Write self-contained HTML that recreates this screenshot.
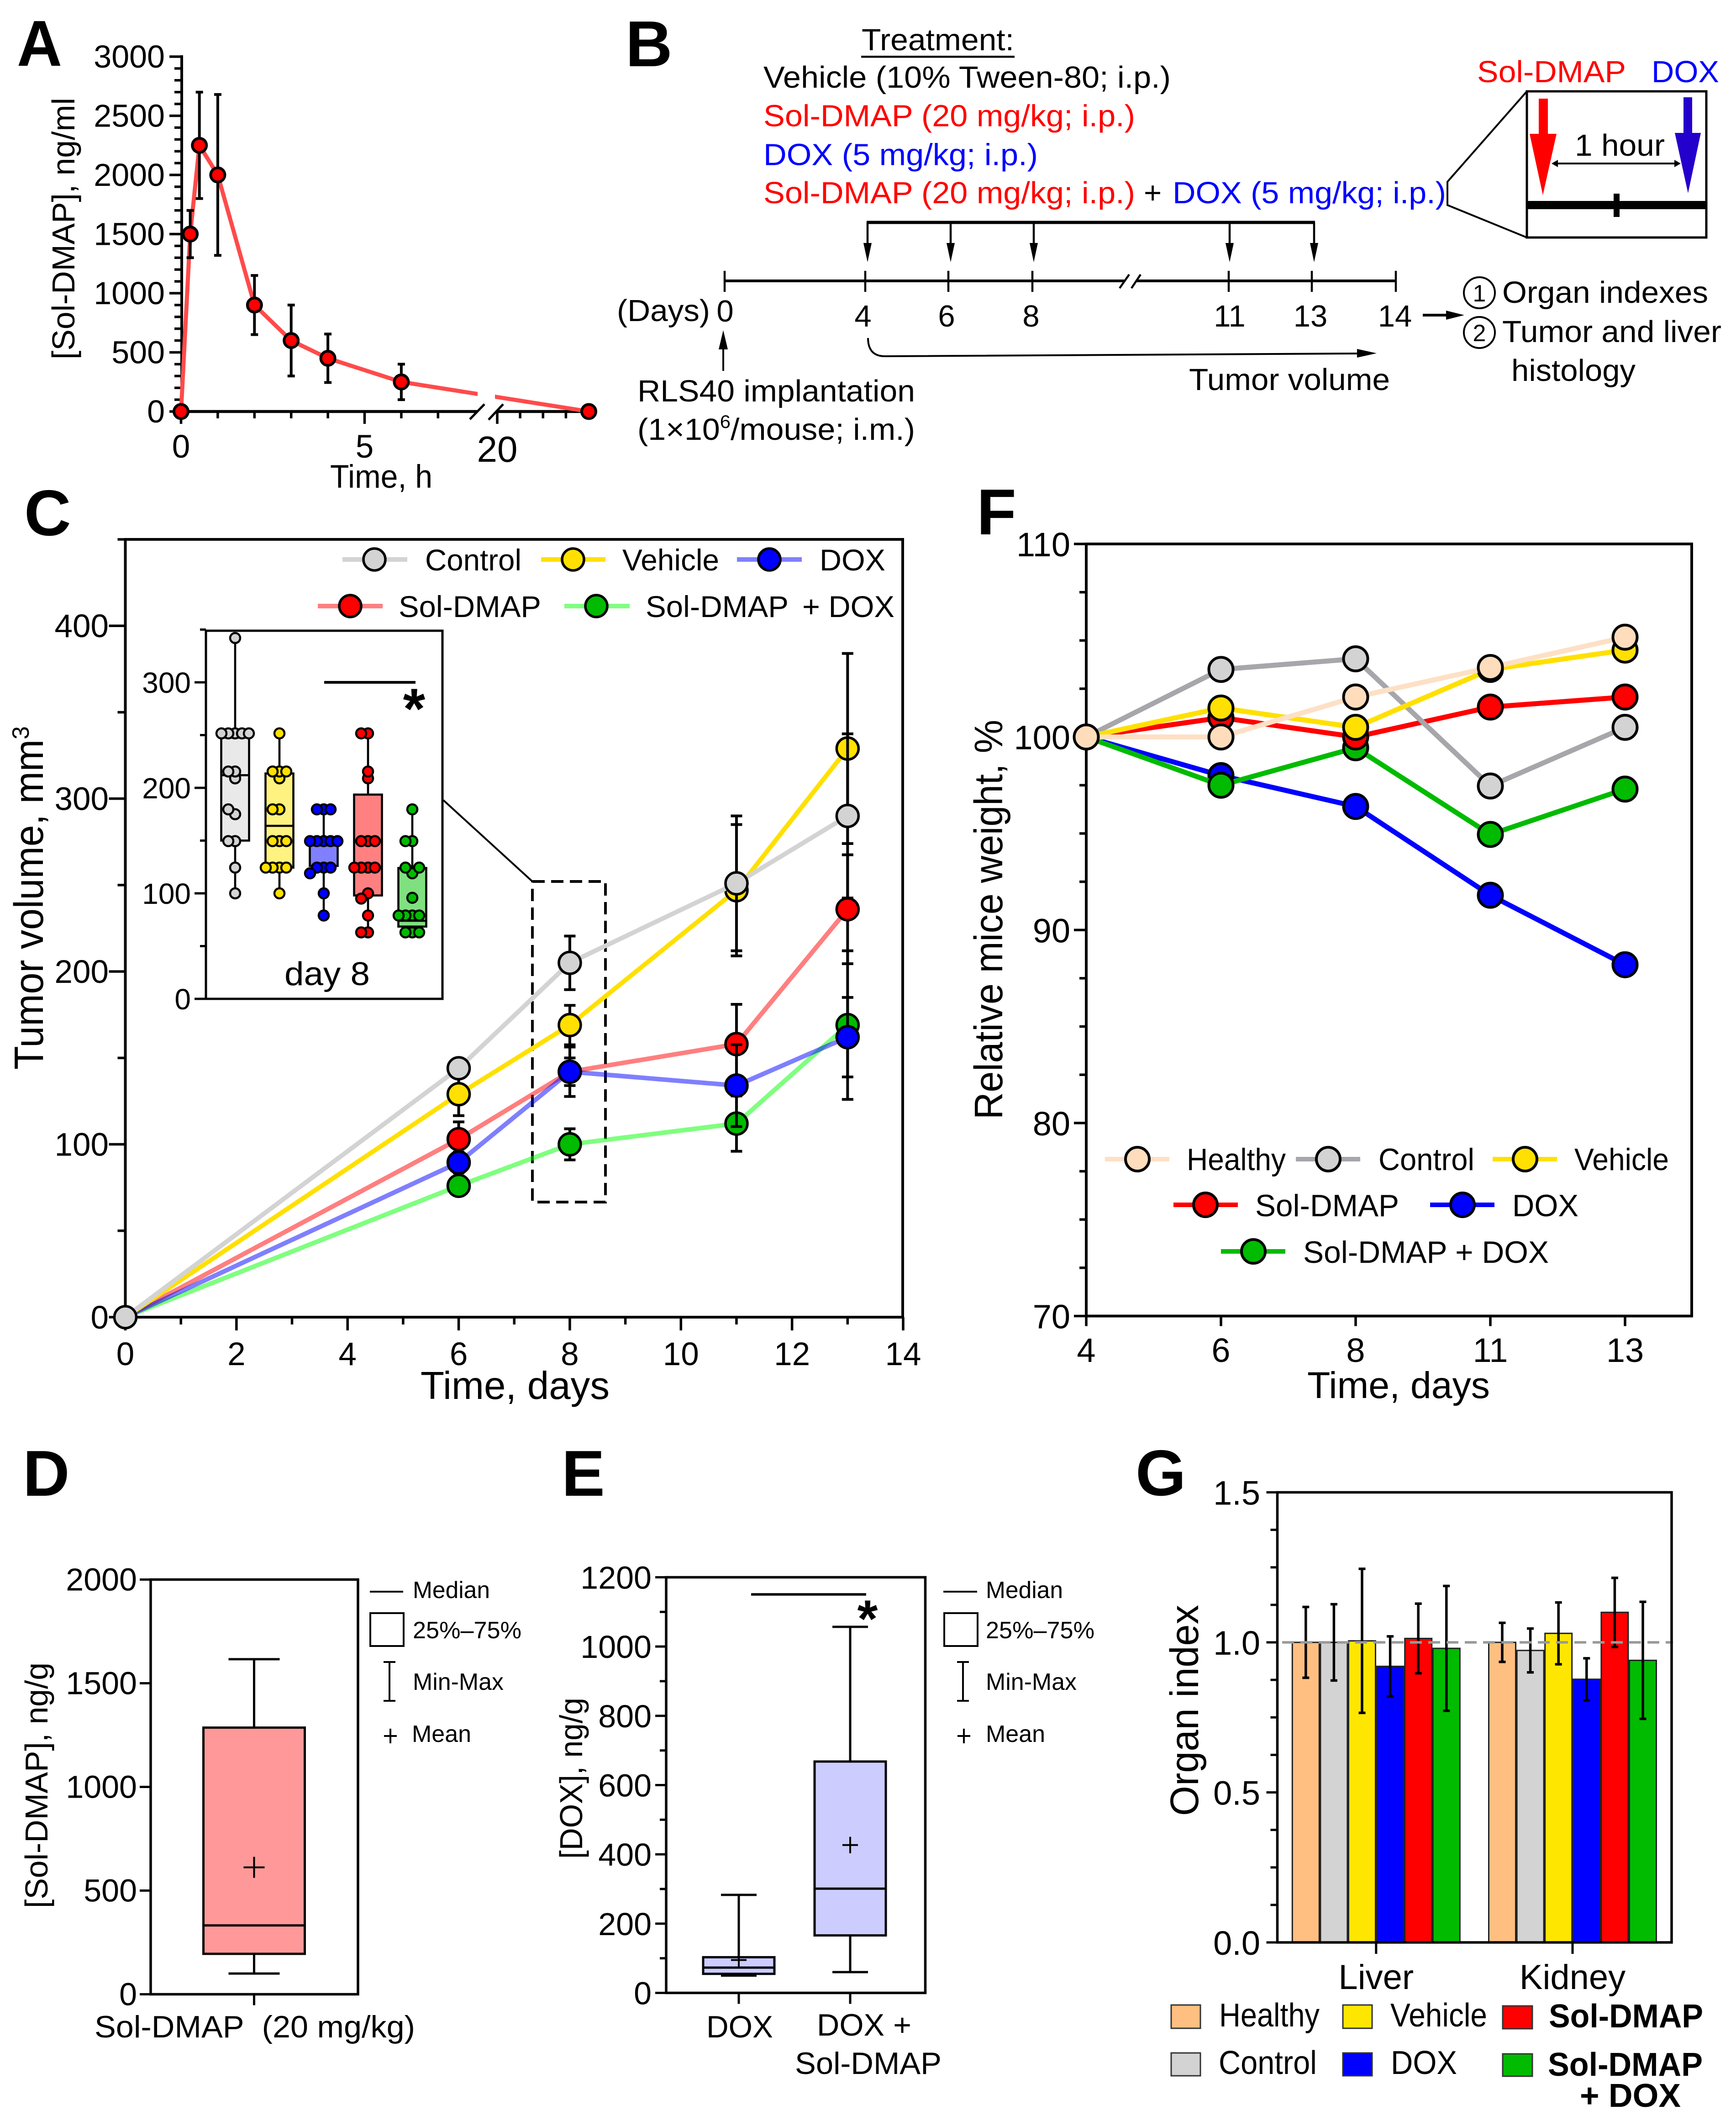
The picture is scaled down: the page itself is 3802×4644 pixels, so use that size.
<!DOCTYPE html>
<html lang="en">
<head>
<meta charset="utf-8">
<title>Sol-DMAP and DOX study figure</title>
<style>
html,body{margin:0;padding:0;background:#fff}
svg{display:block;font-family:"Liberation Sans",Arial,sans-serif}
</style>
</head>
<body>
<svg id="figure" width="3802" height="4644" viewBox="0 0 3802 4644">
<rect x="0" y="0" width="3802" height="4644" fill="#fff"/>

<!-- Panel letters -->
<g font-weight="bold" font-size="142">
<text x="37" y="144" textLength="99" lengthAdjust="spacingAndGlyphs">A</text>
<text x="1370" y="145">B</text>
<text x="53" y="1172">C</text>
<text x="2139" y="1170">F</text>
<text x="50" y="3275">D</text>
<text x="1230" y="3275">E</text>
<text x="2487" y="3274">G</text>
</g>

<!-- Panel A -->
<g id="panelA">
<text x="163" y="787" font-size="70" textLength="573" lengthAdjust="spacingAndGlyphs" transform="rotate(-90 163 787)">[Sol-DMAP], ng/ml</text>
<text x="723" y="1068" font-size="71" textLength="224" lengthAdjust="spacingAndGlyphs">Time, h</text>
</g>

<!-- Panel B -->
<g id="panelB" font-size="67">
<text x="1887" y="110" textLength="334" lengthAdjust="spacingAndGlyphs">Treatment:</text>
<rect x="1886" y="122" width="336" height="4.5" fill="#000"/>
<text x="1672" y="192" textLength="892" lengthAdjust="spacingAndGlyphs">Vehicle (10% Tween-80; i.p.)</text>
<text x="1672" y="276.5" fill="#f00" textLength="814" lengthAdjust="spacingAndGlyphs">Sol-DMAP (20 mg/kg; i.p.)</text>
<text x="1672" y="361.5" fill="#00f" textLength="601" lengthAdjust="spacingAndGlyphs">DOX (5 mg/kg; i.p.)</text>
<text x="1672" y="445" fill="#f00" textLength="814" lengthAdjust="spacingAndGlyphs">Sol-DMAP (20 mg/kg; i.p.)</text>
<text x="2505" y="445">+</text>
<text x="2568" y="445" fill="#00f" textLength="599" lengthAdjust="spacingAndGlyphs">DOX (5 mg/kg; i.p.)</text>

<text x="3235" y="180" fill="#f00" textLength="326" lengthAdjust="spacingAndGlyphs">Sol-DMAP</text>
<text x="3617" y="180" fill="#00f" textLength="148" lengthAdjust="spacingAndGlyphs">DOX</text>
<rect x="3344" y="200" width="393" height="320" fill="none" stroke="#000" stroke-width="5"/>
<polyline points="3344,200 3170,398 3170,449 3344,520" fill="none" stroke="#000" stroke-width="4"/>
<polygon points="3370,216 3390,216 3390,293 3409,293 3379,427 3350,293 3370,293" fill="#f00"/>
<polygon points="3687,213 3706,213 3706,291 3725,291 3697,423 3668,291 3687,291" fill="#2400cc"/>
<text x="3449" y="341" textLength="197" lengthAdjust="spacingAndGlyphs">1 hour</text>
<g>
<line x1="3405" y1="358" x2="3674" y2="358" stroke="#000" stroke-width="4"/>
<polygon points="3398,358 3412,350 3412,366" fill="#000"/>
<polygon points="3681,358 3667,350 3667,366" fill="#000"/>
</g>
<rect x="3344" y="440" width="393" height="18" fill="#000"/>
<rect x="3534" y="424" width="13" height="51" fill="#000"/>

<line x1="1898" y1="487" x2="2880" y2="487" stroke="#000" stroke-width="7"/>
<g>
<path d="M1900 487V535" stroke="#000" stroke-width="4.5"/><polygon points="1891,532 1909,532 1900,574" fill="#000"/>
<path d="M2082 487V535" stroke="#000" stroke-width="4.5"/><polygon points="2073,532 2091,532 2082,574" fill="#000"/>
<path d="M2264 487V535" stroke="#000" stroke-width="4.5"/><polygon points="2255,532 2273,532 2264,574" fill="#000"/>
<path d="M2693 487V535" stroke="#000" stroke-width="4.5"/><polygon points="2684,532 2702,532 2693,574" fill="#000"/>
<path d="M2878 487V535" stroke="#000" stroke-width="4.5"/><polygon points="2869,532 2887,532 2878,574" fill="#000"/>
</g>
<line x1="1587" y1="615" x2="3057" y2="615" stroke="#000" stroke-width="6"/>
<g stroke="#000" stroke-width="4.5">
<line x1="1587" y1="593" x2="1587" y2="639"/><line x1="1895" y1="593" x2="1895" y2="639"/><line x1="2077" y1="593" x2="2077" y2="639"/><line x1="2261" y1="593" x2="2261" y2="639"/><line x1="2691" y1="593" x2="2691" y2="639"/><line x1="2873" y1="593" x2="2873" y2="639"/><line x1="3057" y1="593" x2="3057" y2="639"/>
</g>
<rect x="2462" y="607" width="26" height="16" fill="#fff"/>
<line x1="2452" y1="631" x2="2473" y2="601" stroke="#000" stroke-width="4.5"/>
<line x1="2478" y1="631" x2="2498" y2="601" stroke="#000" stroke-width="4.5"/>
<text x="1351" y="703" textLength="204" lengthAdjust="spacingAndGlyphs">(Days)</text>
<text x="1588" y="704" text-anchor="middle">0</text>
<text x="1890" y="715" text-anchor="middle">4</text>
<text x="2073" y="715" text-anchor="middle">6</text>
<text x="2258" y="715" text-anchor="middle">8</text>
<text x="2693" y="715" text-anchor="middle">11</text>
<text x="2870" y="715" text-anchor="middle">13</text>
<text x="3055" y="715" text-anchor="middle">14</text>
<g>
<line x1="1584" y1="760" x2="1584" y2="812" stroke="#000" stroke-width="4"/>
<polygon points="1584,723 1594,765 1574,765" fill="#000"/>
</g>
<text x="1396" y="879" textLength="608" lengthAdjust="spacingAndGlyphs">RLS40 implantation</text>
<text x="1396" y="963" textLength="608" lengthAdjust="spacingAndGlyphs">(1×10<tspan font-size="40" dy="-26">6</tspan><tspan dy="26">/mouse; i.m.)</tspan></text>
<g>
<path d="M1901 740 C1901 765 1912 780 1938 780 L2975 774" fill="none" stroke="#000" stroke-width="4"/>
<polygon points="3015,773.5 2972,764 2972,783" fill="#000"/>
</g>
<text x="2604" y="854" textLength="440" lengthAdjust="spacingAndGlyphs">Tumor volume</text>
<g>
<line x1="3116" y1="690" x2="3172" y2="690" stroke="#000" stroke-width="6"/>
<polygon points="3207,690 3167,680 3167,700" fill="#000"/>
</g>
<circle cx="3240" cy="641" r="34" fill="none" stroke="#000" stroke-width="4"/>
<text x="3240" y="660" font-size="52" text-anchor="middle">1</text>
<text x="3290" y="663" textLength="451" lengthAdjust="spacingAndGlyphs">Organ indexes</text>
<circle cx="3240" cy="728" r="34" fill="none" stroke="#000" stroke-width="4"/>
<text x="3240" y="747" font-size="52" text-anchor="middle">2</text>
<text x="3290" y="749" textLength="480" lengthAdjust="spacingAndGlyphs">Tumor and liver</text>
<text x="3310" y="834" textLength="272" lengthAdjust="spacingAndGlyphs">histology</text>
</g>

<!-- Panel C -->
<g id="panelC">
<rect x="274.5" y="1181" width="1702.5" height="1703" fill="none" stroke="#000" stroke-width="6"/>
<text x="94" y="2342" font-size="90" textLength="723" lengthAdjust="spacingAndGlyphs" transform="rotate(-90 94 2342)">Tumor volume, mm</text>
<text x="63" y="1619" font-size="52" transform="rotate(-90 63 1619)">3</text>
<text x="921" y="3063" font-size="85" textLength="414" lengthAdjust="spacingAndGlyphs">Time, days</text>
<rect x="1166" y="1930" width="160" height="702" fill="none" stroke="#000" stroke-width="6" stroke-dasharray="27 14"/>
<line x1="971" y1="1752" x2="1166" y2="1930" stroke="#000" stroke-width="4"/>
</g>

<!-- Panel F -->
<g id="panelF">
<rect x="2379" y="1191" width="1326" height="1690.5" fill="none" stroke="#000" stroke-width="6"/>
<text x="2195" y="2451" font-size="87" textLength="875" lengthAdjust="spacingAndGlyphs" transform="rotate(-90 2195 2451)">Relative mice weight, %</text>
<text x="2863" y="3061" font-size="82" textLength="400" lengthAdjust="spacingAndGlyphs">Time, days</text>
</g>

<!-- Panel D -->
<g id="panelD">
<rect x="330" y="3458.5" width="454" height="908" fill="none" stroke="#000" stroke-width="5.5"/>
<text x="104" y="4178" font-size="70" textLength="538" lengthAdjust="spacingAndGlyphs" transform="rotate(-90 104 4178)">[Sol-DMAP], ng/g</text>
<text x="207" y="4461" font-size="68" textLength="702" lengthAdjust="spacingAndGlyphs">Sol-DMAP&#160; (20 mg/kg)</text>
<g font-size="52">
<line x1="810" y1="3485" x2="883" y2="3485" stroke="#000" stroke-width="4"/>
<text x="904" y="3499" textLength="169" lengthAdjust="spacingAndGlyphs">Median</text>
<rect x="811" y="3532" width="73" height="72" fill="#fff" stroke="#000" stroke-width="4"/>
<text x="904" y="3587" textLength="238" lengthAdjust="spacingAndGlyphs">25%–75%</text>
<path d="M853 3639V3724M840 3639H866M840 3724H866" fill="none" stroke="#000" stroke-width="4"/>
<text x="904" y="3700" textLength="199" lengthAdjust="spacingAndGlyphs">Min-Max</text>
<path d="M855 3785V3817M841 3801H869" fill="none" stroke="#000" stroke-width="4"/>
<text x="902" y="3814" textLength="130" lengthAdjust="spacingAndGlyphs">Mean</text>
</g>
</g>

<!-- Panel E -->
<g id="panelE">
<rect x="1459" y="3453.5" width="567.5" height="910" fill="none" stroke="#000" stroke-width="5.5"/>
<text x="1275" y="4070" font-size="70" textLength="353" lengthAdjust="spacingAndGlyphs" transform="rotate(-90 1275 4070)">[DOX], ng/g</text>
<text x="1547" y="4461" font-size="68" textLength="146" lengthAdjust="spacingAndGlyphs">DOX</text>
<text x="1789" y="4457" font-size="68" textLength="207" lengthAdjust="spacingAndGlyphs">DOX +</text>
<text x="1741" y="4541" font-size="68" textLength="321" lengthAdjust="spacingAndGlyphs">Sol-DMAP</text>
<line x1="1645" y1="3491" x2="1897" y2="3491" stroke="#000" stroke-width="5.5"/>
<text x="1900" y="3584" font-size="115" font-weight="bold" text-anchor="middle">*</text>
<g font-size="52">
<line x1="2066" y1="3485" x2="2140" y2="3485" stroke="#000" stroke-width="4"/>
<text x="2159" y="3499" textLength="169" lengthAdjust="spacingAndGlyphs">Median</text>
<rect x="2068" y="3532" width="73" height="72" fill="#fff" stroke="#000" stroke-width="4"/>
<text x="2159" y="3587" textLength="238" lengthAdjust="spacingAndGlyphs">25%–75%</text>
<path d="M2109 3639V3724M2096 3639H2122M2096 3724H2122" fill="none" stroke="#000" stroke-width="4"/>
<text x="2159" y="3700" textLength="199" lengthAdjust="spacingAndGlyphs">Min-Max</text>
<path d="M2111 3785V3817M2097 3801H2125" fill="none" stroke="#000" stroke-width="4"/>
<text x="2159" y="3814" textLength="130" lengthAdjust="spacingAndGlyphs">Mean</text>
</g>
</g>

<!-- Panel G -->
<g id="panelG">
<text x="2624" y="3976" font-size="87" textLength="462" lengthAdjust="spacingAndGlyphs" transform="rotate(-90 2624 3976)">Organ index</text>
<g font-size="72">
<rect x="2565" y="4390" width="64" height="51" fill="#ffbf80" stroke="#333" stroke-width="3"/>
<text x="2670" y="4437" textLength="220" lengthAdjust="spacingAndGlyphs">Healthy</text>
<rect x="2565" y="4495" width="64" height="50" fill="#d3d3d3" stroke="#333" stroke-width="3"/>
<text x="2669" y="4541" textLength="215" lengthAdjust="spacingAndGlyphs">Control</text>
<rect x="2941" y="4390" width="64" height="51" fill="#ffe600" stroke="#333" stroke-width="3"/>
<text x="3045" y="4437" textLength="212" lengthAdjust="spacingAndGlyphs">Vehicle</text>
<rect x="2941" y="4495" width="64" height="50" fill="#00f" stroke="#333" stroke-width="3"/>
<text x="3046" y="4541" textLength="145" lengthAdjust="spacingAndGlyphs">DOX</text>
<rect x="3291" y="4392" width="65" height="50" fill="#f00" stroke="#333" stroke-width="3"/>
<text x="3392" y="4439" font-weight="bold" textLength="338" lengthAdjust="spacingAndGlyphs">Sol-DMAP</text>
<rect x="3291" y="4497" width="65" height="49" fill="#00bb00" stroke="#333" stroke-width="3"/>
<text x="3390" y="4545" font-weight="bold" textLength="339" lengthAdjust="spacingAndGlyphs">Sol-DMAP</text>
<text x="3460" y="4613" font-weight="bold" textLength="221" lengthAdjust="spacingAndGlyphs">+ DOX</text>
</g>
</g>
</svg>

<script>
/* ---------- Panel A data ---------- */
const aHours = [0, 0.25, 0.5, 1, 2, 3, 4, 6, 24];
const aConc = [0, 1500, 2250, 2000, 900, 600, 450, 250, 0];
const aErr = [0, 200, 450, 680, 250, 300, 205, 150, 0];
const aYTicks = [0, 500, 1000, 1500, 2000, 2500, 3000];
const aXMajor = [0, 5, 20];
const aXMinor = [1, 2, 3, 4, 6, 7, 21, 22, 23, 24];

/* ---------- Panel C data ---------- */
const cDays = [0, 6, 8, 11, 13];
const cControl = [0, 144, 205, 251, 290];
const cControlErr = [0, 5, 15.5, 39, 47.5];
const cVehicle = [0, 129, 169, 247, 329];
const cVehicleErr = [0, 12.4, 11.4, 38, 55];
const cSol = [0, 103, 142, 158, 236];
const cSolErr = [0, 10, 8, 23, 31.5];
const cDox = [0, 89.5, 142, 134, 162];
const cDoxErr = [0, 6, 14.3, 23.7, 23];
const cCombo = [0, 76, 100, 112, 169];
const cComboErr = [0, 5, 9, 16, 43];
const cYTicks = [0, 100, 200, 300, 400];
const cYMinor = [50, 150, 250, 350, 450];
const cXTicks = [0, 2, 4, 6, 8, 10, 12, 14];
const cXMinor = [1, 3, 5, 7, 9, 11, 13];

/* ---------- Panel C inset data (day 8) ---------- */
const iNames = ['control', 'vehicle', 'dox', 'sol-dmap', 'sol-dmap-dox'];
const iQ1 = [150, 124.4, 126, 98, 68.5];
const iQ3 = [247.6, 213.6, 145.5, 193.6, 124];
const iMedian = [212, 164, 145.5, 124.4, 74];
const iLow = [100, 100, 79, 63, 63];
const iHigh = [342, 251.6, 179.6, 251.6, 179.6];
const iControlDots = [342, 251.6, 251.6, 251.6, 251.6, 251.6, 209, 215.5, 215.5, 175, 179.6, 149.5, 149.5, 124.4, 100];
const iVehicleDots = [251.6, 209, 215.5, 215.5, 215.5, 179.6, 179.6, 149.5, 149.5, 149.5, 124.4, 124.4, 124.4, 124.4, 100];
const iDoxDots = [179.6, 179.6, 179.6, 149.5, 149.5, 149.5, 149.5, 149.5, 124.4, 124.4, 124.4, 119, 100, 79];
const iSolDots = [251.6, 251.6, 209, 215.5, 149.5, 149.5, 149.5, 124.4, 124.4, 124.4, 124.4, 100, 95, 79, 63, 63];
const iComboDots = [179.6, 149.5, 149.5, 119, 124.4, 124.4, 95.8, 79, 79, 79, 79, 63, 63, 63];
const iYTicks = [0, 100, 200, 300];
const iYMinor = [50, 150, 250, 350];

/* ---------- Panel F data ---------- */
const fDays = ['4', '6', '8', '11', '13'];
const fHealthy = [100, 100, 102.07, 103.6, 105.17];
const fControl = [100, 103.5, 104.05, 97.46, 100.5];
const fVehicle = [100, 101.5, 100.5, 103.5, 104.5];
const fSol = [100, 101, 100, 101.55, 102.07];
const fDox = [100, 98, 96.4, 91.8, 88.2];
const fCombo = [100, 97.5, 99.44, 94.95, 97.3];
const fYTicks = [70, 80, 90, 100, 110];
const fYMinor = [72.5, 75, 77.5, 82.5, 85, 87.5, 92.5, 95, 97.5, 102.5, 105, 107.5];

/* ---------- Panel D data ---------- */
const dYTicks = [0, 500, 1000, 1500, 2000];
const dQ1 = [195];
const dQ3 = [1286];
const dMedian = [332];
const dLow = [100];
const dHigh = [1616];
const dMean = [612];

/* ---------- Panel E data ---------- */
const eYTicks = [0, 200, 400, 600, 800, 1000, 1200];
const eYMinor = [100, 300, 500, 700, 900, 1100];
const eNames = ['dox', 'dox-sol-dmap'];
const eQ1 = [55, 166];
const eQ3 = [103, 668];
const eMedian = [73, 301];
const eLow = [50, 60];
const eHigh = [283, 1057];
const eMean = [95, 427];

/* ---------- Panel G data ---------- */
const gOrgans = ['Liver', 'Kidney'];
const gGroups = ['healthy', 'control', 'vehicle', 'dox', 'sol-dmap', 'sol-dmap-dox'];
const gLiver = [1, 1, 1.005, 0.92, 1.013, 0.98];
const gLiverErr = [0.118, 0.127, 0.24, 0.1, 0.116, 0.208];
const gKidney = [1, 0.973, 1.03, 0.877, 1.1, 0.94];
const gKidneyErr = [0.065, 0.073, 0.103, 0.07, 0.115, 0.195];
const gYTicks = [0, 0.5, 1, 1.5];
const gYMinor = [0.125, 0.25, 0.375, 0.625, 0.75, 0.875, 1.125, 1.25, 1.375];

/* ---------- helpers ---------- */
const SVG_NS = document.getElementById('figure').namespaceURI;

function mk(tag, attrs, parent) {
  const e = document.createElementNS(SVG_NS, tag);
  for (const k in attrs) e.setAttribute(k, attrs[k]);
  parent.appendChild(e);
  return e;
}
function label(parent, str, x, y, size, anchor, width) {
  const a = { x: x, y: y, 'font-size': size, 'text-anchor': anchor };
  if (width) { a.textLength = width; a.lengthAdjust = 'spacingAndGlyphs'; }
  const e = mk('text', a, parent);
  e.textContent = str;
  return e;
}
function linear(d0, d1, r0, r1) {
  return function (v) { return r0 + (v - d0) * (r1 - r0) / (d1 - d0); };
}
function drawYAxis(g, name, y, majors, minors, o) {
  majors.forEach(function (v) {
    const tick = mk('line', { x1: o.x - o.maj, x2: o.x, y1: y(v), y2: y(v), stroke: '#000', 'stroke-width': o.sw }, g);
    
    
    const t = label(g, o.fmt ? o.fmt(v) : String(v), o.labelX, y(v) + o.off, o.size, 'end');
    
    
  });
  minors.forEach(function (v) {
    const tick = mk('line', { x1: o.x - o.min, x2: o.x, y1: y(v), y2: y(v), stroke: '#000', 'stroke-width': o.sw }, g);
    
    
  });
}
function drawXTick(g, name, x, y0, len, sw) {
  const tick = mk('line', { x1: x, x2: x, y1: y0, y2: y0 + len, stroke: '#000', 'stroke-width': sw }, g);
  
  
}
function drawXLabel(g, name, str, x, y0, size) {
  const t = label(g, str, x, y0, size, 'middle');
  
  
}
function drawLine(g, name, xs, ys, color, w) {
  const pts = xs.map(function (x, i) { return x + ',' + ys[i]; }).join(' ');
  const l = mk('polyline', { points: pts, fill: 'none', stroke: color, 'stroke-width': w, 'stroke-linejoin': 'round' }, g);
  
  
}
function drawErr(g, name, x, yTop, yBot, cap, sw) {
  const d = 'M' + x + ' ' + yTop + 'V' + yBot + 'M' + (x - cap) + ' ' + yTop + 'H' + (x + cap) + 'M' + (x - cap) + ' ' + yBot + 'H' + (x + cap);
  const e = mk('path', { d: d, fill: 'none', stroke: '#000', 'stroke-width': sw }, g);
  
  
}
function drawPoint(g, name, x, y, r, fill, sw) {
  const c = mk('circle', { cx: x, cy: y, r: r, fill: fill, stroke: '#000', 'stroke-width': sw }, g);
  
  
}
function drawLegendEntry(g, name, txt, x0, x1, cx, y, color, fill, r, sw, lw, tx, tw, by, size) {
  const l = mk('line', { x1: x0, x2: x1, y1: y, y2: y, stroke: color, 'stroke-width': lw }, g);
  
  
  const c = mk('circle', { cx: cx, cy: y, r: r, fill: fill, stroke: '#000', 'stroke-width': sw }, g);
  
  
  const t = label(g, txt, tx, by, size, 'start', tw);
  
  
}
function drawBox(g, name, cx, hw, y, q1, q3, med, lo, hi, cap, fill, sw) {
  const wh = mk('path', {
    d: 'M' + cx + ' ' + y(lo) + 'V' + y(hi) + (cap ? 'M' + (cx - cap) + ' ' + y(lo) + 'H' + (cx + cap) + 'M' + (cx - cap) + ' ' + y(hi) + 'H' + (cx + cap) : ''),
    fill: 'none', stroke: '#000', 'stroke-width': sw
  }, g);
  
  
  const b = mk('rect', { x: cx - hw, y: y(q3), width: 2 * hw, height: y(q1) - y(q3), fill: fill, stroke: '#000', 'stroke-width': sw }, g);
  
  
  const m = mk('line', { x1: cx - hw, x2: cx + hw, y1: y(med), y2: y(med), stroke: '#000', 'stroke-width': sw }, g);
  
  
}
function drawMean(g, name, cx, cy, hw, hh) {
  const p = mk('path', { d: 'M' + cx + ' ' + (cy - hh) + 'V' + (cy + hh) + 'M' + (cx - hw) + ' ' + cy + 'H' + (cx + hw), fill: 'none', stroke: '#000', 'stroke-width': 4 }, g);
  
  
}
function swarm(values, y, step, minDist) {
  const placed = [];
  return values.map(function (v) {
    const py = y(v);
    let off = 0;
    for (let k = 0; k < 30; k++) {
      off = k === 0 ? 0 : (k % 2 ? -1 : 1) * Math.ceil(k / 2) * step;
      const test = off;
      if (placed.every(function (p) { return Math.hypot(p.o - test, p.y - py) >= minDist; })) break;
    }
    placed.push({ o: off, y: py });
    return off;
  });
}

/* ---------- Panel A ---------- */
(function () {
  const g = document.getElementById('panelA');
  const y = linear(0, 3000, 901, 124);
  const xLow = linear(0, 5, 396.5, 798.5);
  const xHigh = linear(20, 24, 1089, 1289.5);
  const x = function (h) { return h <= 8 ? xLow(h) : xHigh(h); };
  const minors = [];
  for (let v = 100; v < 3000; v += 100) if (v % 500) minors.push(v);
  drawYAxis(g, 'panel-a', y, aYTicks, minors, { x: 398, maj: 27, min: 16, sw: 5.5, labelX: 361, off: 24, size: 70 });
  const yAxis = mk('line', { x1: 398, x2: 398, y1: 121, y2: 904, stroke: '#000', 'stroke-width': 6 }, g);
  
  
  const xAxisLow = mk('line', { x1: 396, x2: 1046, y1: 901, y2: 901, stroke: '#000', 'stroke-width': 6.5 }, g);
  
  
  const xAxisHigh = mk('line', { x1: 1087, x2: 1290, y1: 901, y2: 901, stroke: '#000', 'stroke-width': 6.5 }, g);
  
  
  const slash1 = mk('line', { x1: 1029, y1: 918, x2: 1061, y2: 885, stroke: '#000', 'stroke-width': 5 }, g);
  
  
  const slash2 = mk('line', { x1: 1070, y1: 919, x2: 1102, y2: 885, stroke: '#000', 'stroke-width': 5 }, g);
  
  
  aXMajor.forEach(function (h) {
    drawXTick(g, 'panel-a', x(h), 901, 27, 5.5);
    const isLate = h === 20;
    drawXLabel(g, 'panel-a', String(h), x(h), isLate ? 1011 : 1002, isLate ? 80 : 71);
  });
  aXMinor.forEach(function (h) { drawXTick(g, 'panel-a', x(h), 901, 15, 5.5); });
  drawLine(g, 'panel-a-concentration-line', aHours.map(x), aConc.map(y), '#ff4b4b', 9);
  const gap = mk('rect', { x: 1046, y: 848, width: 38, height: 34, fill: '#fff' }, g);
  
  
  aHours.forEach(function (h, i) {
    if (aErr[i] > 0) drawErr(g, 'panel-a-error-bar', x(h), y(aConc[i] + aErr[i]), y(aConc[i] - aErr[i]), 8, 6);
  });
  aHours.forEach(function (h, i) {
    drawPoint(g, 'panel-a-point', x(h), y(aConc[i]), 15.5, '#f00', 6);
  });
})();

/* ---------- Panel C ---------- */
(function () {
  const g = document.getElementById('panelC');
  const y = linear(0, 450, 2884, 1181);
  const x = linear(0, 14, 274.5, 1978);
  drawYAxis(g, 'panel-c', y, cYTicks, cYMinor, { x: 274.5, maj: 36, min: 17, sw: 5.5, labelX: 238, off: 25, size: 71 });
  cXTicks.forEach(function (d) {
    drawXTick(g, 'panel-c', x(d), 2884, 29, 5.5);
    drawXLabel(g, 'panel-c', String(d), x(d), 2989, 71);
  });
  cXMinor.forEach(function (d) { drawXTick(g, 'panel-c', x(d), 2884, 16, 5.5); });
  const series = [
    ['sol-dmap-dox', cCombo, cComboErr, 'rgba(0,255,0,0.5)', '#00bb00'],
    ['sol-dmap', cSol, cSolErr, 'rgba(255,0,0,0.5)', '#ff0000'],
    ['dox', cDox, cDoxErr, 'rgba(0,0,255,0.5)', '#0000ff'],
    ['vehicle', cVehicle, cVehicleErr, '#ffe000', '#ffe000'],
    ['control', cControl, cControlErr, '#d3d3d3', '#d3d3d3']
  ];
  series.forEach(function (s) {
    drawLine(g, 'panel-c-line-' + s[0], cDays.map(x), s[1].map(y), s[3], 10);
    cDays.forEach(function (d, i) {
      if (s[2][i] > 0) drawErr(g, 'panel-c-error-bar-' + s[0], x(d), y(s[1][i] + s[2][i]), y(s[1][i] - s[2][i]), 12.5, 6);
    });
    cDays.forEach(function (d, i) {
      if (d > 0 || s[0] === 'control') drawPoint(g, 'panel-c-point-' + s[0], x(d), y(s[1][i]), 24, s[4], 5.5);
    });
  });

  /* legend */
  drawLegendEntry(g, 'control', 'Control', 750, 892, 820, 1225, '#d3d3d3', '#d3d3d3', 24, 5.5, 10, 931, 211, 1249, 66);
  drawLegendEntry(g, 'vehicle', 'Vehicle', 1185, 1326, 1255, 1225, '#ffe000', '#ffe000', 24, 5.5, 10, 1363, 212, 1249, 66);
  drawLegendEntry(g, 'dox', 'DOX', 1614, 1756, 1685, 1225, '#8080ff', '#0000ff', 24, 5.5, 10, 1795, 144, 1249, 66);
  drawLegendEntry(g, 'sol-dmap', 'Sol-DMAP', 696, 838, 767, 1327, '#ff8080', '#ff0000', 24, 5.5, 10, 873, 312, 1351, 66);
  drawLegendEntry(g, 'sol-dmap-dox', 'Sol-DMAP', 1236, 1379, 1306, 1327, '#80ff80', '#00bb00', 24, 5.5, 10, 1414, 313, 1351, 66);
  const plusDox = label(g, '+ DOX', 1757, 1351, 66, 'start', 202);
  
  

  /* inset */
  const frame = mk('rect', { x: 451, y: 1381, width: 518, height: 806, fill: '#fff', stroke: '#000', 'stroke-width': 5 }, g);
  
  
  const iy = linear(0, 350, 2187, 1378.5);
  const ix = function (i) { return 515 + 97 * i; };
  drawYAxis(g, 'inset', iy, iYTicks, iYMinor, { x: 451, maj: 25, min: 13, sw: 5, labelX: 418, off: 23, size: 64 });
  const dots = [iControlDots, iVehicleDots, iDoxDots, iSolDots, iComboDots];
  const boxFill = ['#e9e9e9', '#fff280', '#8080ff', '#ff8080', '#80e080'];
  const dotFill = ['#d3d3d3', '#ffe000', '#0000ff', '#ff0000', '#00bb00'];
  iNames.forEach(function (n, i) {
    drawBox(g, 'inset-' + n, ix(i), 30.5, iy, iQ1[i], iQ3[i], iMedian[i], iLow[i], iHigh[i], 0, boxFill[i], 4.6);
    const off = swarm(dots[i], iy, 15, 14.5);
    dots[i].forEach(function (v, k) {
      drawPoint(g, 'inset-dot-' + n, ix(i) + off[k], iy(v), 11, dotFill[i], 4.5);
    });
  });
  const sig = mk('line', { x1: 710, x2: 910, y1: 1494, y2: 1494, stroke: '#000', 'stroke-width': 6 }, g);
  
  
  const star = label(g, '*', 907, 1595, 125, 'middle');
  star.setAttribute('font-weight', 'bold');
  
  
  const day = label(g, 'day 8', 623, 2157, 72, 'start', 187);
  
  
})();

/* ---------- Panel F ---------- */
(function () {
  const g = document.getElementById('panelF');
  const y = linear(70, 110, 2881.5, 1191);
  const x = function (i) { return 2379 + 295 * i; };
  drawYAxis(g, 'panel-f', y, fYTicks, fYMinor, { x: 2379, maj: 27, min: 15, sw: 5.5, labelX: 2344, off: 27, size: 74 });
  fDays.forEach(function (d, i) {
    drawXTick(g, 'panel-f', x(i), 2881.5, 22, 5.5);
    drawXLabel(g, 'panel-f', d, x(i), 2982, 74);
  });
  const xs = fDays.map(function (d, i) { return x(i); });
  const series = [
    ['dox', fDox, '#0000ff', '#0000ff'],
    ['sol-dmap-dox', fCombo, '#00bb00', '#00bb00'],
    ['sol-dmap', fSol, '#ff0000', '#ff0000'],
    ['control', fControl, '#a6a6ab', '#d3d3d3'],
    ['vehicle', fVehicle, '#ffe000', '#ffe000'],
    ['healthy', fHealthy, '#fde0c5', '#ffdcbc']
  ];
  series.forEach(function (s) {
    drawLine(g, 'panel-f-line-' + s[0], xs, s[1].map(y), s[2], 11);
    xs.forEach(function (px, i) {
      if (i > 0 || s[0] === 'healthy') drawPoint(g, 'panel-f-point-' + s[0], px, y(s[1][i]), 26.5, s[3], 6);
    });
  });
  drawLegendEntry(g, 'healthy', 'Healthy', 2420, 2561, 2491, 2538, '#fde0c5', '#ffdcbc', 26, 6, 10, 2599, 217, 2562, 68);
  drawLegendEntry(g, 'control', 'Control', 2838, 2979, 2909, 2538, '#a6a6ab', '#d3d3d3', 26, 6, 10, 3019, 210, 2562, 68);
  drawLegendEntry(g, 'vehicle', 'Vehicle', 3269, 3410, 3340, 2538, '#ffe000', '#ffe000', 26, 6, 10, 3448, 207, 2562, 68);
  drawLegendEntry(g, 'sol-dmap', 'Sol-DMAP', 2570, 2711, 2640, 2638, '#ff0000', '#ff0000', 26, 6, 10, 2749, 315, 2663, 68);
  drawLegendEntry(g, 'dox', 'DOX', 3132, 3273, 3203, 2638, '#0000ff', '#0000ff', 26, 6, 10, 3312, 145, 2663, 68);
  drawLegendEntry(g, 'sol-dmap-dox', 'Sol-DMAP + DOX', 2674, 2815, 2745, 2740, '#00bb00', '#00bb00', 26, 6, 10, 2854, 538, 2765, 68);
})();

/* ---------- Panel D ---------- */
(function () {
  const g = document.getElementById('panelD');
  const y = linear(0, 2000, 4366.5, 3458.5);
  drawYAxis(g, 'panel-d', y, dYTicks, [], { x: 330, maj: 24, min: 0, sw: 5, labelX: 300, off: 24, size: 70 });
  drawXTick(g, 'panel-d', 556.5, 4366.5, 24, 5);
  drawBox(g, 'panel-d-sol-dmap', 556.5, 111, y, dQ1[0], dQ3[0], dMedian[0], dLow[0], dHigh[0], 56, '#ff9999', 5);
  drawMean(g, 'panel-d-mean', 556.5, y(dMean[0]), 23, 23);
})();

/* ---------- Panel E ---------- */
(function () {
  const g = document.getElementById('panelE');
  const y = linear(0, 1200, 4363.5, 3453.5);
  const x = function (i) { return 1618 + 244 * i; };
  drawYAxis(g, 'panel-e', y, eYTicks, eYMinor, { x: 1459, maj: 24, min: 14, sw: 5, labelX: 1427, off: 25, size: 70 });
  eNames.forEach(function (n, i) {
    drawXTick(g, 'panel-e', x(i), 4363.5, 24, 5);
    drawBox(g, 'panel-e-' + n, x(i), 78, y, eQ1[i], eQ3[i], eMedian[i], eLow[i], eHigh[i], 39, '#ccccff', 5);
    drawMean(g, 'panel-e-mean-' + n, x(i), y(eMean[i]), 17, 18);
  });
})();

/* ---------- Panel G ---------- */
(function () {
  const g = document.getElementById('panelG');
  const y = linear(0, 1.5, 4253, 3267.5);
  const barFill = ['#ffbf80', '#d3d3d3', '#ffe600', '#0000ff', '#ff0000', '#00bb00'];
  const organCenter = [3013.8, 3444];
  const vals = [gLiver, gKidney];
  const errs = [gLiverErr, gKidneyErr];
  gOrgans.forEach(function (o, k) {
    gGroups.forEach(function (n, i) {
      const bx = organCenter[k] + (i - 2.5) * 61.6;
      const b = mk('rect', { x: bx - 29.5, y: y(vals[k][i]), width: 59, height: 4253 - y(vals[k][i]), fill: barFill[i], stroke: '#222', 'stroke-width': 3 }, g);
      
      
    });
  });
  gOrgans.forEach(function (o, k) {
    gGroups.forEach(function (n, i) {
      const bx = organCenter[k] + (i - 2.5) * 61.6;
      drawErr(g, 'error-bar-' + o.toLowerCase() + '-' + n, bx, y(vals[k][i] + errs[k][i]), y(vals[k][i] - errs[k][i]), 7.5, 5.5);
    });
  });
  const ref = mk('line', { x1: 2808, x2: 3664, y1: y(1), y2: y(1), stroke: '#999', 'stroke-width': 5.5, 'stroke-dasharray': '26 14' }, g);
  
  
  const frame = mk('rect', { x: 2797.5, y: 3267.5, width: 863.5, height: 985.5, fill: 'none', stroke: '#000', 'stroke-width': 5.5 }, g);
  
  
  drawYAxis(g, 'panel-g', y, gYTicks, gYMinor, {
    x: 2797.5, maj: 24, min: 15, sw: 5, labelX: 2760, off: 27, size: 74,
    fmt: function (v) { return v.toFixed(1); }
  });
  gOrgans.forEach(function (o, k) {
    drawXTick(g, 'panel-g', organCenter[k], 4253, 25, 5);
    drawXLabel(g, 'panel-g', o, organCenter[k], 4355, 76);
  });
})();
</script>
</body>
</html>
